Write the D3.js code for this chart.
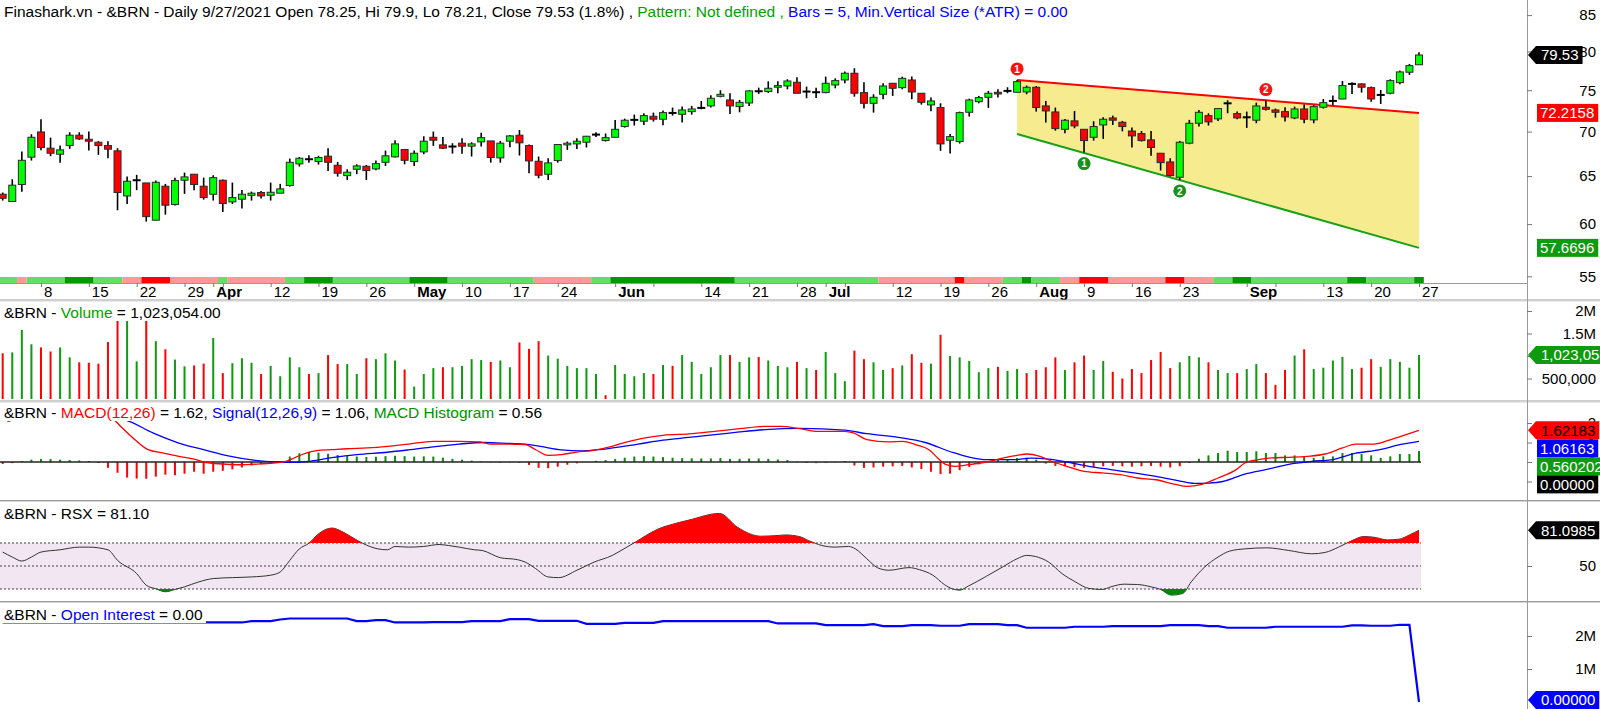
<!DOCTYPE html>
<html>
<head>
<meta charset="utf-8">
<title>&amp;BRN Daily</title>
<script src="https://cdn.jsdelivr.net/npm/d3@7/dist/d3.min.js"></script>
<style>
html,body{margin:0;padding:0;background:#ffffff;}
svg{display:block;font-family:"Liberation Sans",Arial,Helvetica,sans-serif;}
text{white-space:pre;}
</style>
</head>
<body>
<svg id="chart" width="1600" height="709" viewBox="0 0 1600 709"></svg>
<script>
// ================= DATA =================
const dates = ["3/2","3/3","3/4","3/5","3/8","3/9","3/10","3/11","3/12","3/15","3/16","3/17","3/18","3/19","3/22","3/23","3/24","3/25","3/26","3/29","3/30","3/31",
"4/1","4/5","4/6","4/7","4/8","4/9","4/12","4/13","4/14","4/15","4/16","4/19","4/20","4/21","4/22","4/23","4/26","4/27","4/28","4/29","4/30",
"5/3","5/4","5/5","5/6","5/7","5/10","5/11","5/12","5/13","5/14","5/17","5/18","5/19","5/20","5/21","5/24","5/25","5/26","5/27","5/28","5/31",
"6/1","6/2","6/3","6/4","6/7","6/8","6/9","6/10","6/11","6/14","6/15","6/16","6/17","6/18","6/21","6/22","6/23","6/24","6/25","6/28","6/29","6/30",
"7/1","7/2","7/5","7/6","7/7","7/8","7/9","7/12","7/13","7/14","7/15","7/16","7/19","7/20","7/21","7/22","7/23","7/26","7/27","7/28","7/29","7/30",
"8/2","8/3","8/4","8/5","8/6","8/9","8/10","8/11","8/12","8/13","8/16","8/17","8/18","8/19","8/20","8/23","8/24","8/25","8/26","8/27","8/30","8/31",
"9/1","9/2","9/3","9/6","9/7","9/8","9/9","9/10","9/13","9/14","9/15","9/16","9/17","9/20","9/21","9/22","9/23","9/24","9/27"];

const openP = [63.06,62.30,64.09,67.08,69.96,68.09,67.41,68.39,69.58,69.11,
68.77,68.39,67.79,62.88,64.55,64.26,60.39,63.91,61.99,64.55,
65.20,63.91,63.06,64.55,62.26,62.54,62.95,63.24,62.95,63.17,
63.98,66.33,66.85,66.59,67.19,66.18,65.05,65.74,66.07,65.78,
66.51,67.11,67.94,66.59,67.67,69.34,68.47,68.28,68.66,68.32,
68.81,68.92,67.00,68.89,69.58,68.39,66.62,65.20,66.70,68.47,
68.58,68.77,69.65,68.96,69.34,70.59,71.38,71.22,71.81,71.46,
72.21,72.05,72.37,72.82,73.06,74.24,73.79,72.98,73.42,74.87,
74.83,75.37,75.53,76.00,74.83,74.75,74.70,75.66,76.29,77.15,
74.70,73.38,74.49,75.87,75.32,76.29,74.62,73.18,72.86,69.00,
68.85,72.29,73.58,74.12,74.74,74.91,74.74,74.78,75.37,73.06,
72.33,70.27,71.26,70.27,69.34,70.78,71.61,71.10,70.07,69.77,
69.04,67.52,66.55,64.87,68.66,70.98,71.89,71.50,73.38,72.13,
71.69,71.34,72.90,72.57,72.37,71.61,72.69,71.38,72.90,73.67,
73.91,75.79,75.79,75.32,74.41,74.62,75.95,77.28,78.25];
const highP = [63.24,64.65,67.71,69.69,71.46,69.30,68.39,69.92,69.92,70.00,
68.89,68.89,68.09,64.94,65.13,64.26,64.51,64.16,64.83,65.38,
65.20,64.83,65.09,64.62,64.30,63.52,63.34,63.41,64.30,64.16,
66.92,67.11,67.30,67.23,68.09,66.55,65.74,66.29,66.22,66.70,
67.82,69.00,68.01,67.82,69.46,70.00,69.38,68.66,69.23,68.77,
69.88,68.92,68.92,69.61,70.19,68.51,67.15,66.96,68.54,68.85,
69.23,69.50,69.92,69.77,71.38,71.53,72.01,72.17,72.25,72.49,
72.86,72.98,73.06,73.67,74.37,74.99,74.62,73.79,74.99,75.32,
76.12,76.12,76.38,76.63,75.45,75.32,76.72,76.50,77.36,77.79,
75.99,74.49,75.87,75.87,76.72,76.72,74.62,74.08,73.38,69.73,
72.37,73.95,74.29,74.91,75.11,75.37,76.29,75.58,75.53,73.67,
72.86,71.50,72.45,70.27,71.22,71.69,71.89,71.26,70.47,70.07,
70.07,67.52,66.96,68.92,71.38,72.57,72.17,72.82,73.75,72.37,
72.37,73.46,73.71,72.74,72.90,72.98,73.22,73.18,73.91,74.33,
76.16,76.00,75.87,75.45,75.03,76.38,77.49,78.36,79.90];
const lowP = [62.40,62.30,63.31,66.70,67.86,67.19,66.47,68.01,69.04,67.82,
67.34,66.96,61.40,62.05,63.49,60.25,60.39,60.95,61.88,63.10,
63.49,62.50,62.40,61.23,62.05,61.57,62.40,62.61,62.40,63.17,
63.87,66.04,66.47,66.26,65.56,64.94,64.58,65.20,64.58,65.63,
66.11,67.04,66.29,66.11,67.41,68.35,68.01,67.48,67.45,67.15,
68.28,66.47,66.47,68.20,67.26,65.31,64.76,64.58,66.47,67.90,
68.01,68.17,69.38,68.85,69.30,70.47,70.71,70.78,71.18,70.75,
71.89,71.06,72.01,72.65,72.86,74.12,72.09,72.29,73.06,74.53,
74.66,74.62,75.11,74.62,74.00,74.04,74.62,75.24,75.87,74.20,
72.74,72.25,73.87,74.29,75.11,73.87,73.22,72.41,67.79,67.48,
68.62,71.77,73.38,72.82,74.08,74.62,74.74,74.49,72.37,71.06,
70.11,69.81,70.39,67.60,68.96,69.15,70.78,70.03,68.17,68.85,
67.23,65.60,64.94,64.58,68.54,70.59,70.71,71.26,72.17,71.46,
70.43,70.98,72.49,71.65,71.18,71.46,70.98,70.98,72.74,73.14,
73.87,74.53,74.70,73.58,73.30,74.49,75.74,76.93,78.21];
const closeP = [62.64,64.02,66.73,69.34,68.17,67.52,67.90,69.58,69.15,68.89,
68.39,67.98,63.24,64.44,64.55,60.75,64.33,61.92,64.51,64.91,
64.09,62.71,64.83,62.09,62.71,63.06,63.17,62.88,63.27,63.63,
66.51,66.96,66.85,67.04,66.51,65.31,65.42,66.11,65.60,66.36,
67.23,68.58,66.73,67.52,68.89,69.00,68.09,68.28,68.32,68.58,
69.30,67.04,68.66,69.50,68.70,66.66,65.09,66.44,68.51,68.66,
68.89,69.46,69.65,69.30,70.27,71.34,71.38,71.89,71.46,72.25,
72.21,72.57,72.69,72.82,74.00,74.49,73.06,73.50,74.91,74.87,
75.24,75.58,76.16,74.62,74.83,74.75,75.87,76.21,77.15,74.62,
73.38,74.12,75.53,75.24,76.50,74.78,73.50,73.67,68.58,69.42,
72.25,73.79,74.08,74.62,74.53,74.91,76.08,75.37,72.86,72.45,
70.35,71.34,70.67,68.96,70.59,71.46,71.34,70.59,69.50,68.96,
68.17,66.47,65.05,68.77,70.98,72.29,71.14,72.74,73.38,71.61,
71.69,73.06,72.65,72.29,71.73,72.69,71.46,72.98,73.46,73.67,
75.58,75.79,75.37,73.91,74.41,76.21,77.32,78.14,79.53];

// volume in millions of contracts
const volumeM = [1.06,1.08,1.58,1.26,1.19,1.10,1.19,0.97,0.86,0.85,
0.83,1.31,1.80,1.80,0.88,1.80,1.33,1.15,0.92,0.77,
0.79,0.83,1.40,0.62,0.84,0.95,0.85,0.60,0.78,0.55,
0.97,0.75,0.60,0.62,1.02,0.82,0.82,0.60,0.95,0.93,
1.06,0.90,0.70,0.32,0.60,0.73,0.75,0.75,0.78,0.93,
0.91,0.87,0.90,0.75,1.30,1.16,1.33,1.01,0.94,0.78,
0.73,0.73,0.60,0.13,0.80,0.60,0.55,0.62,0.60,0.80,
0.78,1.02,0.87,0.60,0.75,1.02,1.02,0.87,0.97,0.98,
0.90,0.78,0.75,0.87,0.73,0.69,1.09,0.62,0.44,1.12,
0.93,0.86,0.69,0.73,0.79,1.04,0.85,0.83,1.47,1.00,
0.97,0.89,0.64,0.73,0.76,0.67,0.71,0.62,0.69,0.75,
0.97,0.69,0.86,1.01,0.69,0.89,0.65,0.50,0.71,0.62,
0.91,1.09,0.73,0.86,1.00,0.97,0.86,0.69,0.62,0.62,
0.71,0.82,0.62,0.36,0.69,1.01,1.15,0.71,0.74,0.90,
0.98,0.71,0.74,0.93,0.76,0.93,0.87,0.74,1.023054];

// trend ribbon states under the price pane: L light green, D dark green, P pink, R red  [state, firstBar, lastBar]
const trendRuns = [["L",0,1],["P",2,2],["L",3,6],["D",7,9],["L",10,12],["P",13,14],["R",15,17],["P",18,22],["L",23,23],["P",24,29],["L",30,31],["D",32,34],["L",35,42],["D",43,46],["L",47,55],["P",56,61],["L",62,63],["D",64,76],["L",77,91],["P",92,99],["R",100,100],["P",101,104],["L",105,106],["D",107,107],["L",108,110],["P",111,112],["R",113,115],["P",116,121],["R",122,123],["P",124,126],["L",127,128],["D",129,130],["L",131,140],["D",141,142],["L",143,147],["D",148,148]];

const macdPts = [[0.5,2.07],[2,2.3],[4,2.55],[7,2.62],[9,2.55],[10.9,2.43],[12.5,1.74],[13.8,1.15],[15.2,0.63],[16.8,0.46],[18.4,0.29],[20.0,0.15],[21.0,0],[22.6,-0.09],[24.8,-0.14],[26.9,-0.10],[28.5,-0.05],[29.6,0.03],[30.6,0.24],[31.7,0.46],[32.8,0.58],[34.4,0.63],[36.0,0.68],[38.1,0.72],[40.2,0.80],[42.4,0.92],[45.0,1.06],[47.7,1.06],[49.8,1.03],[50.9,0.92],[53.0,0.92],[54.6,0.89],[55.7,0.63],[57.0,0.34],[58.4,0.38],[60.0,0.51],[61.6,0.58],[63.2,0.75],[64.8,0.97],[67.0,1.23],[69.0,1.37],[71.7,1.44],[74.4,1.57],[77.0,1.71],[79.7,1.83],[81.3,1.83],[83.3,1.71],[85.2,1.57],[88.0,1.57],[88.9,1.49],[90.3,1.15],[92.6,1.03],[94.0,1.06],[95.4,0.89],[96.8,0.63],[97.7,0.21],[98.6,-0.14],[99.5,-0.22],[100.9,-0.14],[102.8,0],[104.6,0.21],[106.0,0.34],[107.0,0.41],[108.4,0.29],[109.8,0],[111.2,-0.22],[113.0,-0.48],[114.9,-0.56],[116.8,-0.65],[118.6,-0.82],[120.5,-0.91],[122.4,-1.13],[123.8,-1.25],[125.2,-1.16],[127.0,-0.82],[128.9,-0.39],[129.8,-0.05],[131.2,0.12],[132.6,0.21],[134.4,0.24],[136.3,0.29],[138.2,0.41],[140.0,0.72],[141.4,0.92],[143.3,0.92],[144.7,1.09],[146.1,1.32],[148,1.62183]];
const signalPts = [[0,2.25],[5,2.35],[10,2.35],[13,2.12],[15.7,1.49],[18.4,0.97],[21,0.63],[23.7,0.3],[26.4,0.08],[28.5,0.0],[30.6,-0.02],[32.2,0.05],[34.4,0.22],[37,0.38],[40.2,0.5],[42.4,0.62],[45,0.78],[47.7,0.92],[50.4,1.0],[53,0.95],[54.6,0.92],[56.2,0.8],[58.4,0.62],[60.5,0.57],[62.6,0.65],[66.4,0.92],[69,1.12],[71.7,1.26],[74.4,1.40],[77,1.54],[79.7,1.66],[83.3,1.72],[88,1.63],[90.3,1.45],[93.6,1.26],[96.4,1.0],[99.2,0.5],[101,0.25],[102.8,0.12],[105.6,0.12],[107.5,0.2],[109.3,0.15],[111.2,0.0],[113.5,-0.22],[115.8,-0.39],[118.2,-0.56],[120.5,-0.74],[122.8,-0.95],[124.5,-1.1],[126,-1.08],[127.5,-1.0],[129.8,-0.62],[132.1,-0.38],[134.4,-0.12],[136.8,0.03],[139.1,0.14],[141.4,0.45],[143.8,0.62],[146.1,0.9],[148,1.06163]];
const histVals = [-0.10,-0.06,0.05,0.12,0.15,0.15,0.12,0.10,0.08,0.05,
-0.05,-0.30,-0.55,-0.80,-0.85,-0.86,-0.75,-0.65,-0.68,-0.60,
-0.50,-0.60,-0.50,-0.45,-0.38,-0.28,-0.18,-0.12,-0.06,0.04,
0.28,0.45,0.52,0.48,0.42,0.36,0.30,0.28,0.26,0.27,
0.30,0.32,0.30,0.28,0.29,0.28,0.22,0.16,0.12,0.07,
0.03,-0.02,-0.03,-0.02,-0.04,-0.15,-0.30,-0.32,-0.24,-0.14,
-0.07,0.00,0.06,0.10,0.15,0.22,0.28,0.30,0.28,0.25,
0.22,0.20,0.19,0.18,0.18,0.20,0.16,0.16,0.18,0.18,
0.16,0.13,0.10,0.02,-0.05,-0.06,-0.04,-0.02,0.05,-0.18,
-0.30,-0.28,-0.24,-0.22,-0.20,-0.28,-0.36,-0.50,-0.62,-0.60,
-0.42,-0.25,-0.12,0.02,0.10,0.15,0.20,0.22,0.12,-0.08,
-0.20,-0.22,-0.26,-0.30,-0.26,-0.22,-0.20,-0.22,-0.24,-0.22,
-0.20,-0.24,-0.28,-0.22,-0.05,0.17,0.34,0.46,0.58,0.51,
0.51,0.55,0.46,0.46,0.34,0.34,0.29,0.21,0.29,0.29,
0.46,0.46,0.41,0.34,0.21,0.29,0.41,0.41,0.560202];

// RSX: [bar, value]
const rsxPts = [[0,62.1],[1,57.8],[2,54.3],[3,57.8],[4,62.1],[6,64.1],[8,66.4],[9,66.4],[11,64.1],[12,54.9],[14,43.4],[15,33.3],[16,30.2],[17,27.6],[18,29.6],[19,31.9],[20.5,36.2],[22,39.1],[24,39.9],[26,40.5],[28,42.0],[29,44.8],[30,54.9],[31,64.9],[32,69.8],[33,77.9],[34.4,83.0],[35.4,80.2],[36.5,75.0],[37.6,69.8],[39.2,64.9],[40.2,64.1],[41,67.0],[42.4,66.4],[44,67.0],[45.6,68.7],[46.6,67.8],[47.7,66.4],[49.3,64.1],[50.1,63.5],[52,57.2],[53.8,55.5],[54.6,53.4],[55.7,47.7],[57,40.5],[58.1,39.9],[60,46.3],[61.8,53.4],[63.7,59.2],[64.5,62.9],[66.1,70.7],[67.2,76.4],[68.5,82.2],[70.1,86.5],[71.7,89.9],[74.9,95.7],[76.8,83.6],[78.1,77.9],[79.2,75.9],[80.8,76.4],[81.8,77.0],[83.3,75.5],[84.2,72.1],[84.9,69.8],[85.6,67.8],[87,66.4],[88.4,67.0],[89.1,64.9],[90.3,56.3],[91.4,48.6],[92.6,46.3],[94.7,48.6],[95.8,46.8],[97.2,42.0],[98.4,33.9],[99.3,29.9],[100,29.0],[100.9,32.5],[102.8,41.1],[104.6,49.7],[106,56.3],[107,59.2],[107.9,58.3],[109.3,53.4],[110.7,43.4],[112.1,36.2],[113.5,30.5],[114.9,29.6],[115.8,31.9],[117.2,34.2],[118.6,33.9],[120,31.9],[121,29.6],[122.1,24.7],[123.3,26.1],[124.2,36.2],[125.6,49.1],[127,57.8],[128.2,62.9],[129.8,64.9],[132.1,65.8],[134.4,63.5],[136.8,60.6],[138.2,61.8],[139.6,66.4],[141,72.1],[142.2,75.6],[143.3,75.0],[144.7,72.7],[145.9,73.3],[147,77.0],[148,81.0985]];
const rsxLevels = [30,50,70];

// open interest in millions
const oiM = [2.41,2.41,2.41,2.41,2.41,2.41,2.41,2.41,2.41,2.41,
2.41,2.41,2.41,2.41,2.41,2.41,2.41,2.41,2.41,2.41,
2.41,2.41,2.41,2.41,2.41,2.41,2.45,2.45,2.45,2.50,
2.53,2.53,2.53,2.53,2.53,2.53,2.53,2.45,2.45,2.48,
2.48,2.41,2.41,2.41,2.41,2.42,2.42,2.42,2.42,2.45,
2.45,2.45,2.45,2.51,2.51,2.51,2.46,2.46,2.46,2.46,
2.46,2.37,2.37,2.37,2.37,2.40,2.40,2.40,2.40,2.45,
2.45,2.45,2.45,2.45,2.45,2.45,2.45,2.45,2.45,2.45,
2.45,2.38,2.38,2.38,2.38,2.38,2.33,2.33,2.33,2.33,
2.33,2.36,2.30,2.30,2.30,2.33,2.33,2.33,2.31,2.31,
2.31,2.36,2.36,2.36,2.36,2.33,2.33,2.25,2.25,2.25,
2.25,2.25,2.28,2.28,2.28,2.28,2.30,2.30,2.30,2.30,
2.30,2.30,2.33,2.33,2.33,2.33,2.30,2.30,2.25,2.25,
2.25,2.25,2.25,2.28,2.28,2.28,2.28,2.28,2.28,2.28,
2.28,2.32,2.32,2.31,2.31,2.31,2.34,2.34,0];

// triangle pattern lines [bar, price] and pivots [bar, label, kind]
const upperLine = [[106,76.29],[148,72.2158]];
const lowerLine = [[106,69.72],[148,57.6696]];
const pivots = [[106,"1","high"],[132,"2","high"],[113,"1","low"],[123,"2","low"]];

// axis ticks
const tickDates  = ["3/8","3/15","3/22","3/29","4/1","4/5","4/12","4/19","4/26","5/3","5/10","5/17","5/24","6/1","6/7","6/14","6/21","6/28","7/1","7/5","7/12","7/19","7/26","8/2","8/9","8/16","8/23","9/1","9/6","9/13","9/20","9/27"];
const tickLabels = ["8","15","22","29","Apr","","12","19","26","May","10","17","24","Jun","","14","21","28","Jul","","12","19","26","Aug","9","16","23","Sep","","13","20","27"];
const priceTicks = [55,60,65,70,75,80,85];
const volTicks = [500000,1000000,1500000,2000000];
const macdTicks = [-1,0,1,2];
const rsxTicks = [50];
const oiTicks = [1000000,2000000];

// ================= DRAW =================
const svg = d3.select("#chart");
const N = dates.length, last = N-1;
const AX = 1527;
const FS = "15px", TFS = "15.5px";
const xi = d3.scaleLinear().domain([0,last]).range([2.7,1419]);
const yP = d3.scaleLog().domain([55,85]).range([276.3,15.1]);
const yV = d3.scaleLinear().domain([0,2e6]).range([401,311]);
const yM = d3.scaleLinear().domain([0,2]).range([462,423]);
const yR = d3.scaleLinear().domain([30,70]).range([589,543]);
const yO = d3.scaleLinear().domain([0,2e6]).range([702,636]);
const xEnd = xi(last)+2;

svg.append("rect").attr("width",1600).attr("height",709).attr("fill","#fff");
const defs = svg.append("defs");
function clip(id,x,y,w,h){defs.append("clipPath").attr("id",id).append("rect").attr("x",x).attr("y",y).attr("width",w).attr("height",h);}
clip("cPrice",0,0,AX,276);
clip("cVol",0,300,AX,99);
clip("cMacd",0,402,AX,98);
clip("cRsx",0,502,AX,98);
clip("cOi",0,603,AX,106);
clip("cRsxHi",0,500,AX,yR(70)-500);
clip("cRsxLo",0,yR(30),AX,601-yR(30));

// ----- price pane -----
const gP = svg.append("g").attr("clip-path","url(#cPrice)");
const tri = [[upperLine[0][0],upperLine[0][1]],[upperLine[1][0],upperLine[1][1]],[lowerLine[1][0],lowerLine[1][1]],[lowerLine[0][0],lowerLine[0][1]]];
gP.append("path").attr("d",d3.line().x(p=>xi(p[0])).y(p=>yP(p[1]))(tri)+"Z").attr("fill","#f6ec8f");
gP.append("path").attr("d",d3.line().x(p=>xi(p[0])).y(p=>yP(p[1]))(upperLine)).attr("stroke","#ff0000").attr("stroke-width",2).attr("fill","none");
gP.append("path").attr("d",d3.line().x(p=>xi(p[0])).y(p=>yP(p[1]))(lowerLine)).attr("stroke","#18a018").attr("stroke-width",2).attr("fill","none");

const bars = dates.map((d,i)=>({i,o:openP[i],h:highP[i],l:lowP[i],c:closeP[i]}));
gP.selectAll("line.wick").data(bars).join("line").attr("class","wick")
  .attr("x1",b=>xi(b.i)).attr("x2",b=>xi(b.i)).attr("y1",b=>yP(b.h)).attr("y2",b=>yP(b.l))
  .attr("stroke","#000").attr("stroke-width",1.6);
gP.selectAll("rect.body").data(bars.filter(b=>b.o!==b.c)).join("rect").attr("class","body")
  .attr("x",b=>xi(b.i)-3.5).attr("width",7)
  .attr("y",b=>yP(Math.max(b.o,b.c))).attr("height",b=>Math.max(1,yP(Math.min(b.o,b.c))-yP(Math.max(b.o,b.c))))
  .attr("fill",b=>b.c>b.o?"#00ff00":"#ff0000").attr("stroke","#2a2a2a").attr("stroke-width",1);
gP.selectAll("line.doji").data(bars.filter(b=>b.o===b.c)).join("line").attr("class","doji")
  .attr("x1",b=>xi(b.i)-4).attr("x2",b=>xi(b.i)+4).attr("y1",b=>yP(b.c)).attr("y2",b=>yP(b.c))
  .attr("stroke","#000").attr("stroke-width",2);

pivots.forEach(p=>{
  const i=p[0], hi=p[2]==="high";
  const cy = hi ? yP(highP[i])-11 : yP(lowP[i])+11;
  const g = svg.append("g");
  g.append("circle").attr("cx",xi(i)).attr("cy",cy).attr("r",6.5).attr("fill",hi?"#ff1010":"#1a901a");
  g.append("text").attr("x",xi(i)).attr("y",cy+3.6).attr("text-anchor","middle").attr("fill","#fff")
    .style("font-size","10px").style("font-weight","bold").text(p[1]);
});

// trend ribbon + time axis
const runColor = {L:"#66dd66",D:"#009900",P:"#ff9999",R:"#ff0000"};
svg.append("g").selectAll("rect").data(trendRuns).join("rect")
  .attr("x",r=>xi(r[1])-4.8).attr("width",r=>xi(r[2])-xi(r[1])+9.6)
  .attr("y",277).attr("height",6).attr("fill",r=>runColor[r[0]]);
svg.append("line").attr("x1",0).attr("x2",AX).attr("y1",283.5).attr("y2",283.5).attr("stroke","#9a9a9a").attr("stroke-width",1);
const xAxis = d3.axisBottom(xi).tickValues(tickDates.map(d=>dates.indexOf(d))).tickFormat((d,k)=>tickLabels[k]).tickSize(4).tickSizeOuter(0);
const gX = svg.append("g").attr("transform","translate(0,283)").call(xAxis);
gX.select(".domain").remove();
gX.selectAll(".tick line").attr("stroke","#777");
gX.selectAll(".tick text").attr("x",2.5).attr("y",14).attr("dy",null).attr("text-anchor","start")
  .attr("fill","#000").style("font-size",FS).style("font-family",null)
  .style("font-weight",(d,k)=>isNaN(+tickLabels[k])?"bold":"normal");

// ----- volume pane -----
const gV = svg.append("g").attr("clip-path","url(#cVol)");
gV.selectAll("rect").data(volumeM).join("rect")
  .attr("x",(v,i)=>xi(i)-1).attr("width",2)
  .attr("y",v=>yV(v*1e6)).attr("height",v=>Math.max(0,399-yV(v*1e6)))
  .attr("fill",(v,i)=>{const prev=i>0?closeP[i-1]:openP[i]; return closeP[i]>=prev?"#0f9a0f":"#ff0000";});

// ----- MACD pane -----
const gM = svg.append("g").attr("clip-path","url(#cMacd)");
gM.selectAll("rect").data(histVals).join("rect")
  .attr("x",(v,i)=>xi(i)-1).attr("width",2)
  .attr("y",v=>Math.min(yM(v),yM(0))).attr("height",v=>Math.abs(yM(v)-yM(0)))
  .attr("fill",v=>v>=0?"#0a8a0a":"#ff0000");
gM.append("line").attr("x1",0).attr("x2",xEnd).attr("y1",yM(0)).attr("y2",yM(0)).attr("stroke","#222").attr("stroke-width",1.4);
const lineIdx = d3.line().x(p=>xi(p[0])).curve(d3.curveMonotoneX);
gM.append("path").attr("d",lineIdx.y(p=>yM(p[1]))(signalPts)).attr("fill","none").attr("stroke","#0000ff").attr("stroke-width",1.3);
gM.append("path").attr("d",lineIdx.y(p=>yM(p[1]))(macdPts)).attr("fill","none").attr("stroke","#ff0000").attr("stroke-width",1.3);

// ----- RSX pane -----
const gR = svg.append("g").attr("clip-path","url(#cRsx)");
gR.append("rect").attr("x",0).attr("width",xEnd).attr("y",yR(70)).attr("height",yR(30)-yR(70)).attr("fill","#f2e6f2");
gR.selectAll("line.lvl").data(rsxLevels).join("line").attr("class","lvl")
  .attr("x1",0).attr("x2",xEnd).attr("y1",v=>yR(v)).attr("y2",v=>yR(v))
  .attr("stroke","#444").attr("stroke-width",1).attr("stroke-dasharray","2,2");
const rsxCurve = d3.curveMonotoneX;
svg.append("path").attr("clip-path","url(#cRsxHi)")
  .attr("d",d3.area().x(p=>xi(p[0])).y0(yR(70)).y1(p=>yR(p[1])).curve(rsxCurve)(rsxPts)).attr("fill","#ff0000");
svg.append("path").attr("clip-path","url(#cRsxLo)")
  .attr("d",d3.area().x(p=>xi(p[0])).y0(yR(30)).y1(p=>yR(p[1])).curve(rsxCurve)(rsxPts)).attr("fill","#008800");
gR.append("path").attr("d",d3.line().x(p=>xi(p[0])).y(p=>yR(p[1])).curve(rsxCurve)(rsxPts))
  .attr("fill","none").attr("stroke","#333").attr("stroke-width",1);

// ----- Open interest pane -----
const gO = svg.append("g").attr("clip-path","url(#cOi)");
gO.append("path").attr("d",d3.line().x((v,i)=>xi(i)).y(v=>yO(v*1e6))(oiM))
  .attr("fill","none").attr("stroke","#0000ff").attr("stroke-width",2.2);

// ----- titles -----
function paneTitle(cy,parts,bg){
  const g = svg.append("g");
  const t = g.append("text").attr("x",4).attr("y",cy+5.5).style("font-size",TFS);
  parts.forEach(p=>t.append("tspan").attr("fill",p[1]).text(p[0]));
  if(bg){const bb=t.node().getBBox(); g.insert("rect","text").attr("x",0).attr("y",cy-9).attr("width",bb.x+bb.width+3).attr("height",18).attr("fill","#fff");}
}
const pct = ((closeP[last]/closeP[last-1]-1)*100).toFixed(1);
paneTitle(11,[[`Finashark.vn - &BRN - Daily 9/27/2021 Open ${openP[last]}, Hi ${highP[last]}, Lo ${lowP[last]}, Close ${closeP[last]} (${pct}%) , `,"#000"],["Pattern: Not defined , ","#00a000"],["Bars = 5, Min.Vertical Size (*ATR) = 0.00","#0000ff"]],false);
paneTitle(312,[["&BRN - ","#000"],["Volume","#00a000"],[` = ${d3.format(",.2f")(Math.round(volumeM[last]*1e6))}`,"#000"]],true);
const macdLast = macdPts[macdPts.length-1][1], sigLast = signalPts[signalPts.length-1][1], histLast = histVals[last];
paneTitle(412,[["&BRN - ","#000"],["MACD(12,26)","#ff0000"],[` = ${macdLast.toFixed(2)}, `,"#000"],["Signal(12,26,9)","#0000ff"],[` = ${sigLast.toFixed(2)}, `,"#000"],["MACD Histogram","#009000"],[` = ${histLast.toFixed(2)}`,"#000"]],true);
const rsxLast = rsxPts[rsxPts.length-1][1];
paneTitle(513,[[`&BRN - RSX = ${rsxLast.toFixed(2)}`,"#000"]],true);
paneTitle(614,[["&BRN - ","#000"],["Open Interest","#0000ff"],[` = ${oiM[last].toFixed(2)}`,"#000"]],true);

// ----- pane separators -----
[300,401,500.5,601.5].forEach(y=>{
  svg.append("line").attr("x1",0).attr("x2",1600).attr("y1",y).attr("y2",y).attr("stroke","#9c9c9c").attr("stroke-width",1);
  svg.append("line").attr("x1",0).attr("x2",1600).attr("y1",y+1).attr("y2",y+1).attr("stroke","#d4d4d4").attr("stroke-width",1);
});

// ----- right axes -----
svg.append("line").attr("x1",AX+0.5).attr("x2",AX+0.5).attr("y1",0).attr("y2",709).attr("stroke","#9a9a9a").attr("stroke-width",1);
function rightAxis(scale,ticks,fmt){
  const g = svg.append("g").attr("transform",`translate(${AX},0)`)
    .call(d3.axisRight(scale).tickValues(ticks).tickFormat(fmt).tickSize(5).tickSizeOuter(0));
  g.select(".domain").remove();
  g.selectAll(".tick line").attr("stroke","#777");
  g.selectAll(".tick text").attr("x",69).attr("text-anchor","end").attr("fill","#000").style("font-size",FS).style("font-family",null);
}
const volFmt = v => v>=1e6 ? d3.format("~g")(v/1e6)+"M" : d3.format(",")(v);
rightAxis(yP,priceTicks,d3.format("d"));
rightAxis(yV,volTicks,volFmt);
rightAxis(yM,macdTicks,d3.format("d"));
rightAxis(yR,rsxTicks,d3.format("d"));
rightAxis(yO,oiTicks,volFmt);

// ----- value tags -----
const TH = 18;
function valueTag(cy,label,bg,fg,arrow){
  const g = svg.append("g");
  const tx = arrow?1541:1540;
  const t = g.append("text").attr("x",tx).attr("y",cy+5.3).attr("fill",fg).style("font-size",FS).text(label);
  const w = t.node().getComputedTextLength();
  const x1 = Math.min(1600,tx+w+4);
  const h = TH/2;
  if(arrow) g.insert("path","text").attr("d",`M${AX+1},${cy}L${AX+9},${cy-h}H${x1}V${cy+h}H${AX+9}Z`).attr("fill",bg);
  else g.insert("rect","text").attr("x",1537).attr("y",cy-h).attr("width",x1-1537).attr("height",TH).attr("fill",bg);
}
valueTag(yP(closeP[last]),closeP[last].toFixed(2),"#000","#fff",true);
valueTag(yP(upperLine[1][1]),upperLine[1][1].toPrecision(6),"#ff0000","#fff",false);
valueTag(yP(lowerLine[1][1]),lowerLine[1][1].toPrecision(6),"#109a10","#fff",false);
valueTag(yV(volumeM[last]*1e6),d3.format(",.0f")(volumeM[last]*1e6),"#109a10","#fff",true);
let ty = yM(macdLast);
valueTag(ty,macdLast.toPrecision(6),"#ff0000","#000",true);
ty = Math.max(yM(sigLast),ty+TH); valueTag(ty,sigLast.toPrecision(6),"#0000ff","#fff",false);
ty = Math.max(yM(histLast),ty+TH); valueTag(ty,histLast.toPrecision(6),"#109a10","#fff",false);
ty = Math.max(yM(0),ty+TH); valueTag(ty,(0).toPrecision(6),"#000","#fff",false);
valueTag(yR(rsxLast),rsxLast.toPrecision(6),"#000","#fff",true);
valueTag(Math.min(yO(oiM[last]),700),oiM[last].toPrecision(6),"#0000ff","#fff",true);
</script>
</body>
</html>
